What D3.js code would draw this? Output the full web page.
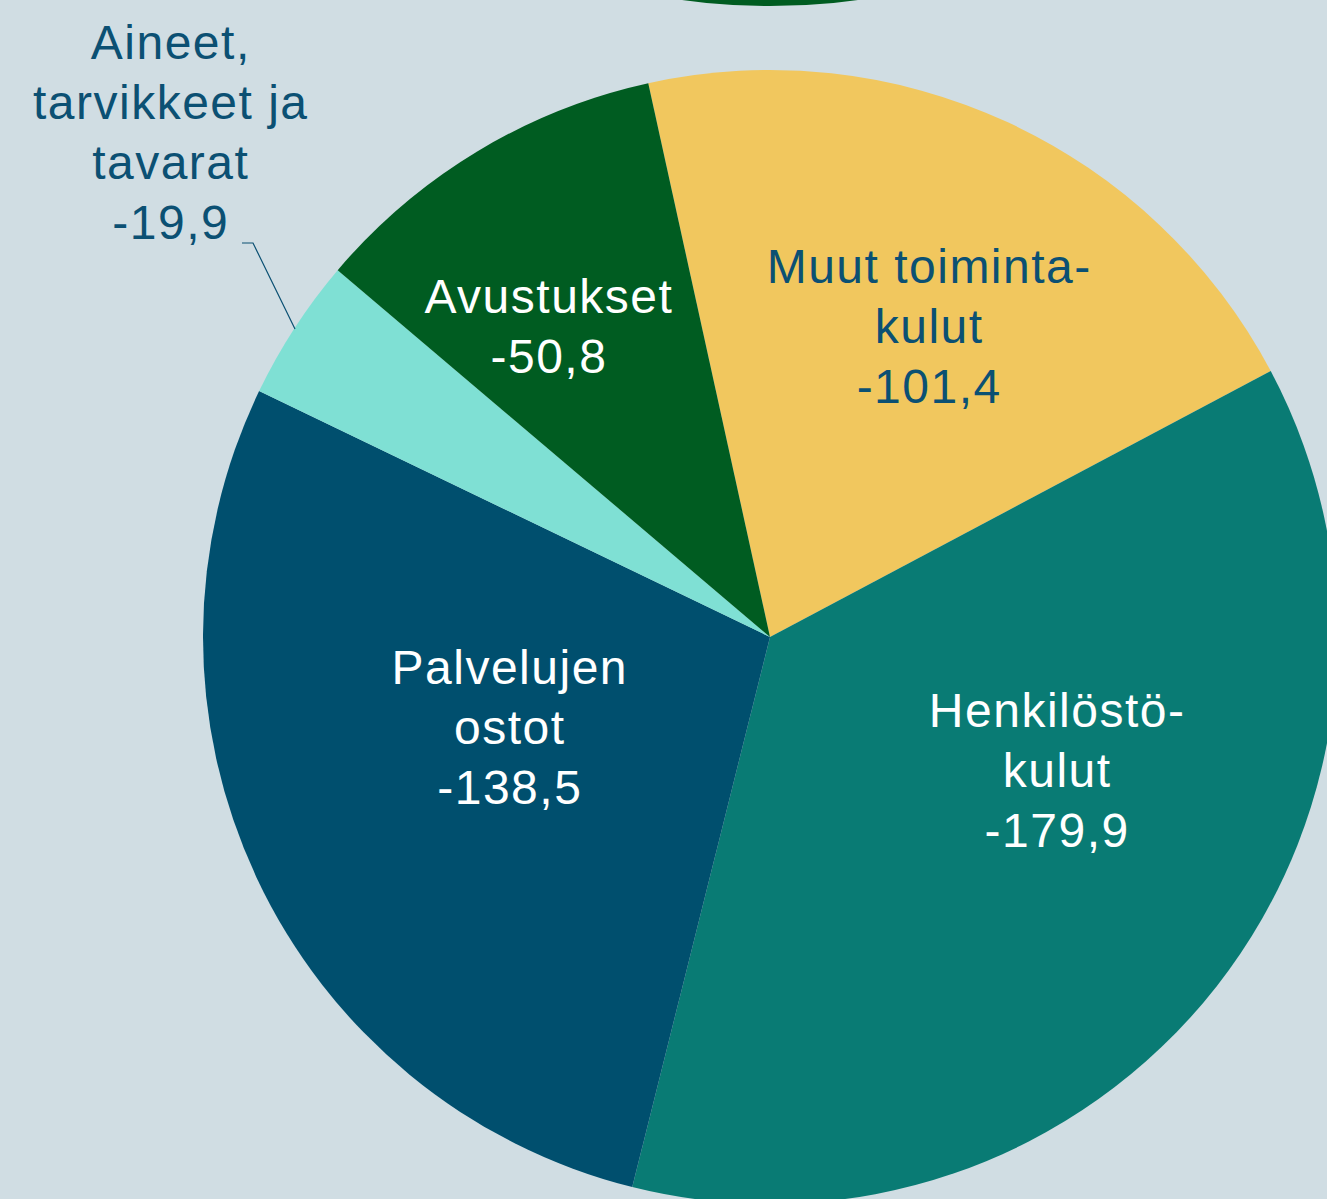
<!DOCTYPE html>
<html>
<head>
<meta charset="utf-8">
<script src="https://cdn.jsdelivr.net/npm/d3@7"></script>
<style>
  html, body { margin: 0; padding: 0; background: #D0DDE3; overflow: hidden; }
</style>
</head>
<body>
<script>
// Data (milj. euroa), in the order the slices run clockwise
const categories = ["Muut toimintakulut", "Henkilöstökulut", "Palvelujen ostot", "Aineet, tarvikkeet ja tavarat", "Avustukset"];
const values = [-101.4, -179.9, -138.5, -19.9, -50.8];
const labelLines = [
  ["Muut toiminta-", "kulut"],
  ["Henkilöstö-", "kulut"],
  ["Palvelujen", "ostot"],
  ["Aineet,", "tarvikkeet ja", "tavarat"],
  ["Avustukset"]
];

const colors = ["#F1C75E", "#097B74", "#004F6E", "#7FE0D4", "#005C21"];
const textColors = ["#0B5073", "#FFFFFF", "#FFFFFF", "#0B5073", "#FFFFFF"];

const width = 1327, height = 1199;
const cx = 770, cy = 637, radius = 567;
const fmt = v => d3.format(".1f")(v).replace(".", ",").replace("−", "-");

const svg = d3.select("body").append("svg")
  .attr("width", width)
  .attr("height", height)
  .style("display", "block")
  .style("background-color", "#D0DDE3");

// pala edellisestä kuviosta ylälaidassa
svg.append("circle")
  .attr("cx", 770)
  .attr("cy", -642)
  .attr("r", 648)
  .attr("fill", "#005C21");

const g = svg.append("g")
  .attr("transform", `translate(${cx},${cy})`);

const pie = d3.pie()
  .sort(null)
  .value(d => Math.abs(d))
  .startAngle(-12.4 * Math.PI / 180)
  .endAngle((360 - 12.4) * Math.PI / 180);

const arcs = pie(values);
const arc = d3.arc().innerRadius(0).outerRadius(radius);

g.selectAll("path.slice")
  .data(arcs)
  .enter().append("path")
  .attr("class", "slice")
  .attr("d", arc)
  .attr("fill", (d, i) => colors[i]);

// Label placement: polar position (deg, radius) of the label's centre
const labelPos = [
  { a: 27, r: 349 },
  { a: 115, r: 316 },
  { a: 251, r: 276 },
  { a: 0, r: 0, abs: [170, 132] },
  { a: 324.5, r: 382 }
];
const lineH = 60;
const fontSize = 48;
const spacing = 1.5;

arcs.forEach((d, i) => {
  const lines = labelLines[i].concat([fmt(values[i])]);
  let x, y;
  if (labelPos[i].abs) {
    x = labelPos[i].abs[0] - cx;
    y = labelPos[i].abs[1] - cy;
  } else {
    const a = labelPos[i].a * Math.PI / 180;
    x = Math.sin(a) * labelPos[i].r;
    y = -Math.cos(a) * labelPos[i].r;
  }
  const top = y - (lines.length - 1) * lineH / 2;
  const t = g.append("text")
    .attr("text-anchor", "middle")
    .attr("font-family", "'Liberation Sans', Arial, sans-serif")
    .attr("font-size", fontSize)
    .attr("letter-spacing", spacing)
    .attr("fill", textColors[i]);
  lines.forEach((ln, j) => {
    t.append("tspan")
      .attr("x", x + spacing / 2)
      .attr("y", top + j * lineH)
      .attr("dy", "0.35em")
      .text(ln);
  });
});

// leader line for the small slice
g.append("polyline")
  .attr("points", [[242 - cx, 243 - cy], [253 - cx, 243 - cy], [295 - cx, 329 - cy]].map(p => p.join(",")).join(" "))
  .attr("fill", "none")
  .attr("stroke", "#0B5073")
  .attr("stroke-width", 1.2);
</script>
</body>
</html>
